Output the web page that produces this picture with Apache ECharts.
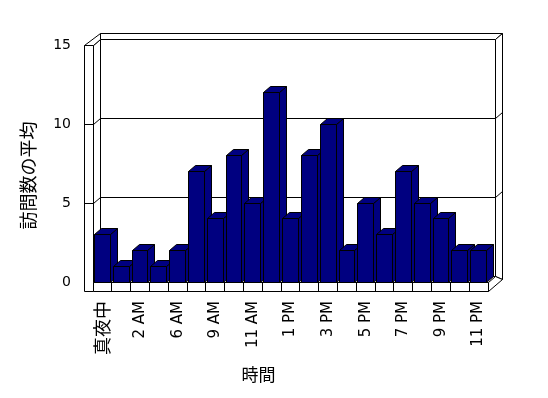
<!DOCTYPE html>
<html>
<head>
<meta charset="utf-8">
<script src="https://cdn.jsdelivr.net/npm/echarts@6/dist/echarts.min.js"></script>
<style>
html,body{margin:0;padding:0;background:#fff;}
#chart{width:548px;height:398px;}
</style>
</head>
<body>
<div id="chart"></div>
<script>
const hours = ['真夜中','1 AM','2 AM','5 AM','6 AM','8 AM','9 AM','10 AM','11 AM','正午','1 PM','2 PM','3 PM','4 PM','5 PM','6 PM','7 PM','8 PM','9 PM','10 PM','11 PM'];
const visits = [3,1,2,1,2,7,4,8,5,12,4,8,10,2,5,3,7,5,4,2,2];
const yTicks = [0,5,10,15];

const DX = 7, DY = -6;       // depth offset of the 3D effect
const WALL = 9;              // left wall / floor thickness
const BAR_RATIO = 0.84;
const NAVY = '#000080';
const px = v => Math.round(v - 0.5) + 0.5;
const pts = arr => arr.map(p => [px(p[0]), px(p[1])]);

function poly(points, fill) {
  return { type: 'polygon', shape: { points: pts(points) },
    style: { fill: fill, stroke: '#000', lineWidth: 1 } };
}
function line(points) {
  return { type: 'polyline', shape: { points: pts(points) },
    style: { fill: null, stroke: '#000', lineWidth: 1 } };
}

function renderFrame(params, api) {
  const band = api.size([1, 0])[0];
  const n = hours.length;
  const xL = api.coord([0, 0])[0] - band / 2;
  const xR = api.coord([n - 1, 0])[0] + band / 2;
  const y0 = api.coord([0, yTicks[0]])[1];
  const yT = api.coord([0, yTicks[yTicks.length - 1]])[1];
  const ch = [];
  ch.push(poly([[xL+DX, yT+DY],[xR+DX, yT+DY],[xR+DX, y0+DY],[xL+DX, y0+DY]], '#fff'));
  ch.push(poly([[xL+DX, yT+DY],[xR+DX, yT+DY],[xR+2*DX, yT+2*DY],[xL+DX, yT+2*DY]], '#fff'));
  ch.push(poly([[xR+DX, yT+DY],[xR+2*DX, yT+2*DY],[xR+2*DX, y0+WALL+2*DY],[xR+DX, y0+DY]], '#fff'));
  ch.push(poly([[xL, yT],[xL+DX, yT+DY],[xL+DX, y0+DY],[xL, y0]], '#fff'));
  ch.push(poly([[xL-WALL, yT],[xL, yT],[xL+DX, yT+DY],[xL+DX, yT+2*DY]], '#fff'));
  ch.push(poly([[xL-WALL, yT],[xL, yT],[xL, y0+WALL],[xL-WALL, y0+WALL]], '#fff'));
  ch.push(poly([[xL, y0],[xR, y0],[xR, y0+WALL],[xL, y0+WALL]], '#fff'));
  for (let k = 1; k < n; k++) {
    const x = xL + k * band;
    ch.push(line([[x, y0],[x, y0+WALL]]));
  }
  ch.push(poly([[xR, y0],[xR, y0+WALL],[xR+2*DX, y0+WALL+2*DY],[xR+DX, y0+DY]], '#fff'));
  for (let i = 1; i < yTicks.length - 1; i++) {
    const y = api.coord([0, yTicks[i]])[1];
    ch.push(line([[xL-WALL, y],[xL, y],[xL+DX, y+DY],[xR+DX, y+DY],[xR+2*DX, y+2*DY]]));
  }
  return { type: 'group', children: ch };
}

function renderBar(params, api) {
  const i = api.value(0), v = api.value(1);
  const top = api.coord([i, v]);
  const base = api.coord([i, 0]);
  const w = api.size([1, 0])[0] * BAR_RATIO;
  const x1 = top[0] - w / 2, x2 = top[0] + w / 2, yt = top[1], yb = base[1];
  return { type: 'group', children: [
    poly([[x2, yt],[x2+DX, yt+DY],[x2+DX, yb+DY],[x2, yb]], NAVY),
    poly([[x1, yt],[x1+DX, yt+DY],[x2+DX, yt+DY],[x2, yt]], NAVY),
    poly([[x1, yt],[x2, yt],[x2, yb],[x1, yb]], NAVY)
  ]};
}

const chart = echarts.init(document.getElementById('chart'), null, { renderer: 'canvas' });
chart.setOption({
  animation: false,
  backgroundColor: '#fff',
  grid: { left: 93, top: 45, width: 395, height: 237, containLabel: false },
  xAxis: {
    type: 'category', data: hours,
    axisLine: { show: false }, axisTick: { show: false }, splitLine: { show: false },
    axisLabel: {
      rotate: 90, interval: 1, margin: 19, color: '#000',
      fontFamily: 'DejaVu Sans', fontSize: 15,
      formatter: v => /[^\x00-\x7f]/.test(v) ? '{cjk|' + v + '}' : v,
      rich: { cjk: { fontFamily: 'Noto Sans CJK JP', fontSize: 18, color: '#000' } }
    },
    name: '時間', nameLocation: 'middle', nameGap: 84,
    nameTextStyle: { fontFamily: 'Noto Sans CJK JP', fontSize: 17, color: '#000', padding: [0, 64, 0, 0] }
  },
  yAxis: {
    type: 'value', min: 0, max: 15, interval: 5,
    axisLine: { show: false }, axisTick: { show: false }, splitLine: { show: false },
    axisLabel: { margin: 22, color: '#000', fontFamily: 'DejaVu Sans', fontSize: 14 },
    name: '訪問数の平均', nameLocation: 'middle', nameRotate: 90, nameGap: 56,
    nameTextStyle: { fontFamily: 'Noto Sans CJK JP', fontSize: 18, color: '#000', padding: [0, 24, 0, 0] }
  },
  series: [
    { type: 'custom', z: 1, renderItem: renderFrame, data: [[0, 0]], silent: true },
    { type: 'custom', z: 2, renderItem: renderBar, data: visits.map((v, i) => [i, v]), silent: true }
  ]
});
</script>
</body>
</html>
